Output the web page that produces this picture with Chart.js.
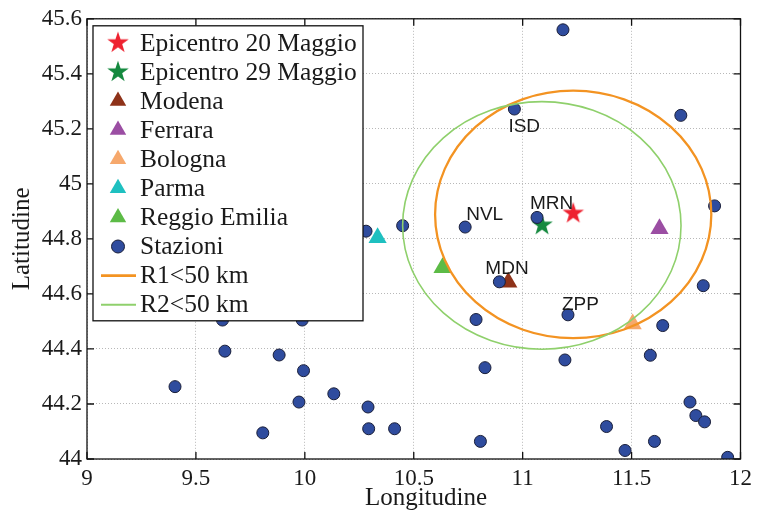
<!DOCTYPE html>
<html>
<head>
<meta charset="utf-8">
<script src="https://cdn.jsdelivr.net/npm/chart.js@4.4.0/dist/chart.umd.min.js"></script>
<style>
  html, body { margin: 0; padding: 0; background: #fff; }
  #wrap { width: 758px; height: 510px; }
</style>
</head>
<body>
<div id="wrap"><canvas id="map" width="758" height="510"></canvas></div>
<script>
// seismic stations (lon, lat)
const stationLon = [11.185, 10.962, 11.726, 11.881, 11.066, 10.736, 10.449, 10.281,
  10.893, 11.829, 11.208, 10.786, 11.643, 10.827, 11.194, 11.586, 11.768, 11.795,
  11.835, 11.385, 10.806, 11.605, 11.470, 11.941, 10.412, 9.622, 9.988, 9.633,
  9.882, 9.994, 9.404, 10.133, 9.973, 10.290, 10.293, 9.807];
const stationLat = [45.560, 45.272, 45.249, 44.920, 44.878, 44.843, 44.848, 44.828,
  44.644, 44.630, 44.524, 44.507, 44.485, 44.332, 44.360, 44.377, 44.207, 44.158,
  44.135, 44.118, 44.064, 44.064, 44.031, 44.006, 44.110, 44.505, 44.505, 44.392,
  44.378, 44.321, 44.263, 44.237, 44.207, 44.189, 44.110, 44.095];

const cityNames = ["Modena", "Ferrara", "Bologna", "Parma", "Reggio Emilia"];
const cityLon = [10.934, 11.628, 11.505, 10.334, 10.632];
const cityLat = [44.642, 44.837, 44.491, 44.804, 44.695];

const epiNames = ["Epicentro 20 Maggio", "Epicentro 29 Maggio"];
const epiLon = [11.232, 11.089];
const epiLat = [44.893, 44.850];

const circleNames = ["R1<50 km", "R2<50 km"];
const circleLon = [11.232, 11.088];
const circleLat = [44.889, 44.849];
const circleRadLon = [0.634, 0.639];
const circleRadLat = [0.450, 0.450];

const siteNames = ["ISD", "NVL", "MRN", "MDN", "ZPP"];
const siteLon = [10.962, 10.736, 11.066, 10.893, 11.208];
const siteLat = [45.272, 44.843, 44.878, 44.644, 44.524];

const xTickLabels = ["9", "9.5", "10", "10.5", "11", "11.5", "12"];
const yTickLabels = ["44", "44.2", "44.4", "44.6", "44.8", "45", "45.2", "45.4", "45.6"];

const epiColors = ["#ee2230", "#15893f"];
const cityColors = ["#8e3219", "#9b4ea3", "#f6a86c", "#1ec0c0", "#5cbb46"];
const circleColors = ["#f39322", "#8fd06c"];
const circleWidths = [2.3, 1.6];
const stationFill = "#2f4c9e";
const serif = "'Liberation Serif', 'Times New Roman', serif";
const sans = "'Liberation Sans', Arial, sans-serif";
const textColor = "#1a1a1a";

function makeStar(color) {
  const c = document.createElement("canvas");
  c.width = 24;
  c.height = 24;
  const g = c.getContext("2d");
  g.beginPath();
  for (let i = 0; i < 10; i++) {
    const r = i % 2 === 0 ? 11.3 : 4.4;
    const a = -Math.PI / 2 + (i * Math.PI) / 5;
    g.lineTo(12 + r * Math.cos(a), 12 + r * Math.sin(a));
  }
  g.closePath();
  g.fillStyle = color;
  g.fill();
  return c;
}
const stars = epiColors.map(makeStar);

const pts = (xs, ys) => xs.map((x, i) => ({ x: x, y: ys[i] }));

const datasets = [
  {
    label: "Stazioni",
    data: pts(stationLon, stationLat),
    pointStyle: "circle",
    pointRadius: 6,
    backgroundColor: stationFill,
    borderColor: "#1a1f3a",
    borderWidth: 1,
  },
];
epiNames.forEach((name, i) => {
  datasets.push({
    label: name,
    data: [{ x: epiLon[i], y: epiLat[i] }],
    pointStyle: stars[i],
    pointRadius: 11,
  });
});
cityNames.forEach((name, i) => {
  datasets.push({
    label: name,
    data: [{ x: cityLon[i], y: cityLat[i] }],
    pointStyle: "triangle",
    pointRadius: 10.5,
    backgroundColor: cityColors[i],
    borderColor: cityColors[i],
    borderWidth: 0,
  });
});

const decorations = {
  id: "decorations",
  beforeDraw(chart) {
    const ctx = chart.ctx;
    ctx.save();
    ctx.fillStyle = "#fff";
    ctx.fillRect(0, 0, chart.width, chart.height);
    ctx.restore();
  },
  afterDraw(chart) {
    // x axis title, set a little right of centre as in the original
    const ctx = chart.ctx;
    ctx.save();
    ctx.font = "25px " + serif;
    ctx.fillStyle = textColor;
    ctx.textAlign = "center";
    ctx.textBaseline = "middle";
    ctx.fillText("Longitudine", 426, 498);
    ctx.restore();
  },
  afterDatasetsDraw(chart) {
    const ctx = chart.ctx;
    const a = chart.chartArea;
    const xs = chart.scales.x;
    const ys = chart.scales.y;

    // radius circles
    ctx.save();
    ctx.beginPath();
    ctx.rect(a.left, a.top, a.right - a.left, a.bottom - a.top);
    ctx.clip();
    circleNames.forEach((n, i) => {
      const cx = xs.getPixelForValue(circleLon[i]);
      const cy = ys.getPixelForValue(circleLat[i]);
      const rx = Math.abs(xs.getPixelForValue(circleLon[i] + circleRadLon[i]) - cx);
      const ry = Math.abs(ys.getPixelForValue(circleLat[i] + circleRadLat[i]) - cy);
      ctx.beginPath();
      ctx.ellipse(cx, cy, rx, ry, 0, 0, Math.PI * 2);
      ctx.strokeStyle = circleColors[i];
      ctx.lineWidth = circleWidths[i];
      ctx.stroke();
    });
    ctx.restore();

    // station labels
    const offs = [[-6, 23], [1, -7], [-7, -8], [-14, -8], [-6, -5]];
    ctx.save();
    ctx.font = "19px " + sans;
    ctx.fillStyle = textColor;
    ctx.textAlign = "left";
    ctx.textBaseline = "alphabetic";
    siteNames.forEach((n, i) => {
      const px = xs.getPixelForValue(siteLon[i]);
      const py = ys.getPixelForValue(siteLat[i]);
      ctx.fillText(n, px + offs[i][0], py + offs[i][1]);
    });
    ctx.restore();

    // frame with inward ticks
    ctx.save();
    ctx.strokeStyle = "#111";
    ctx.lineWidth = 1.3;
    ctx.strokeRect(a.left, a.top, a.right - a.left, a.bottom - a.top);
    ctx.beginPath();
    xs.ticks.forEach((t) => {
      const px = xs.getPixelForValue(t.value);
      ctx.moveTo(px, a.bottom);
      ctx.lineTo(px, a.bottom - 7);
      ctx.moveTo(px, a.top);
      ctx.lineTo(px, a.top + 7);
    });
    ys.ticks.forEach((t) => {
      const py = ys.getPixelForValue(t.value);
      ctx.moveTo(a.left, py);
      ctx.lineTo(a.left + 7, py);
      ctx.moveTo(a.right, py);
      ctx.lineTo(a.right - 7, py);
    });
    ctx.stroke();
    ctx.restore();

    // legend box
    const L = a.left + 6;
    const T = a.top + 7;
    const W = 270;
    const H = 295;
    ctx.save();
    ctx.fillStyle = "#fff";
    ctx.fillRect(L, T, W, H);
    ctx.strokeStyle = "#111";
    ctx.lineWidth = 1.3;
    ctx.strokeRect(L, T, W, H);
    const entries = [];
    epiNames.forEach((n, i) => entries.push({ text: n, style: stars[i], r: 11 }));
    cityNames.forEach((n, i) =>
      entries.push({ text: n, style: "triangle", r: 9.5, color: cityColors[i] })
    );
    entries.push({ text: "Stazioni", style: "circle", r: 6.5, color: stationFill, border: "#1a1f3a" });
    circleNames.forEach((n, i) =>
      entries.push({ text: n, line: circleColors[i], width: circleWidths[i] })
    );
    ctx.font = "25.5px " + serif;
    ctx.textBaseline = "middle";
    entries.forEach((e, i) => {
      const y = T + 17 + i * 29.1;
      const mx = L + 25;
      if (e.line) {
        ctx.beginPath();
        ctx.moveTo(L + 8, y);
        ctx.lineTo(L + 43, y);
        ctx.strokeStyle = e.line;
        ctx.lineWidth = e.width + 0.3;
        ctx.stroke();
      } else {
        ctx.fillStyle = e.color || "#000";
        ctx.strokeStyle = e.border || e.color || "#000";
        ctx.lineWidth = e.border ? 1 : 0;
        Chart.helpers.drawPoint(ctx, {
          pointStyle: e.style,
          radius: e.r,
          rotation: 0,
          borderWidth: e.border ? 1 : 0,
        }, mx, y);
      }
      ctx.fillStyle = textColor;
      ctx.fillText(e.text, L + 47, y + 1);
    });
    ctx.restore();
  },
};

new Chart(document.getElementById("map").getContext("2d"), {
  type: "scatter",
  data: { datasets: datasets },
  plugins: [decorations],
  options: {
    responsive: false,
    animation: false,
    events: [],
    layout: { padding: { top: 18, right: 15, left: 0, bottom: 0 } },
    plugins: { legend: { display: false }, tooltip: { enabled: false } },
    scales: {
      x: {
        type: "linear",
        min: 9,
        max: 12,
        afterFit: (s) => { s.height = 51; },
        ticks: {
          stepSize: 0.5,
          padding: 6,
          color: textColor,
          font: { family: serif, size: 23 },
          callback: (v, i) => xTickLabels[i],
        },
        grid: { color: "#b8b8b8", drawTicks: false },
        border: { display: false, dash: [1, 2] },
      },
      y: {
        type: "linear",
        min: 44,
        max: 45.6,
        afterFit: (s) => { s.width = 87; },
        ticks: {
          stepSize: 0.2,
          padding: 5,
          color: textColor,
          font: { family: serif, size: 23 },
          callback: (v, i) => yTickLabels[i],
        },
        grid: { color: "#b8b8b8", drawTicks: false },
        border: { display: false, dash: [1, 2] },
        title: {
          display: true,
          text: "Latitudine",
          color: textColor,
          font: { family: serif, size: 25, lineHeight: 1 },
          padding: { top: 10, bottom: 0 },
        },
      },
    },
  },
});
</script>
</body>
</html>
